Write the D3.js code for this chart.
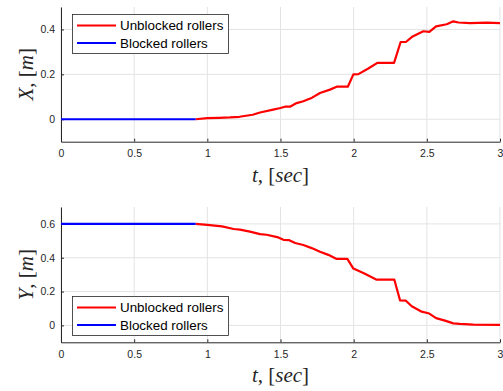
<!DOCTYPE html>
<html>
<head>
<meta charset="utf-8">
<script src="https://cdn.jsdelivr.net/npm/d3@7"></script>
<style>
  body { margin: 0; background: #fff; }
  .tick text { font-family: "Liberation Sans", Arial, sans-serif; font-size: 10.5px; fill: #262626; }
  .lab { font-family: "Liberation Serif", "DejaVu Serif", serif; font-size: 21px; fill: #262626; }
  .leg { font-family: "Liberation Sans", Arial, sans-serif; font-size: 13.4px; fill: #000; }
</style>
</head>
<body>
<script>
// blocked rollers (both plots)
var tBlocked = [0, 0.92];
var xBlocked = [0, 0];
var yBlocked = [0.6, 0.6];

// unblocked rollers, X position
var tX = [0.92, 1.0, 1.08, 1.155, 1.22, 1.31, 1.36, 1.45, 1.5, 1.53, 1.565, 1.61, 1.656, 1.69, 1.713,
          1.77, 1.838, 1.884, 1.96, 1.998, 2.032, 2.1, 2.162, 2.276, 2.321, 2.357, 2.403, 2.476,
          2.517, 2.563, 2.636, 2.681, 2.716, 2.795, 2.909, 3.0];
var xVals = [0, 0.005, 0.006, 0.008, 0.011, 0.02, 0.03, 0.043, 0.05, 0.056, 0.056, 0.072, 0.08, 0.089, 0.095,
             0.117, 0.132, 0.145, 0.145, 0.2, 0.201, 0.226, 0.251, 0.251, 0.344, 0.344, 0.369, 0.392,
             0.389, 0.414, 0.423, 0.436, 0.431, 0.428, 0.43, 0.428];

// unblocked rollers, Y position
var tY = [0.92, 1.0, 1.1, 1.18, 1.223, 1.291, 1.36, 1.405, 1.485, 1.52, 1.56, 1.6, 1.656, 1.713, 1.77,
          1.827, 1.884, 1.957, 1.998, 2.077, 2.157, 2.278, 2.317, 2.357, 2.397, 2.465, 2.517, 2.563,
          2.624, 2.681, 2.726, 2.818, 3.0];
var yVals = [0.6, 0.594, 0.585, 0.57, 0.566, 0.554, 0.54, 0.536, 0.52, 0.506, 0.504, 0.487, 0.475, 0.457, 0.435,
             0.417, 0.393, 0.393, 0.336, 0.305, 0.27, 0.27, 0.148, 0.146, 0.113, 0.081, 0.07, 0.043,
             0.028, 0.012, 0.009, 0.005, 0.003];

var tTicks = [0, 0.5, 1, 1.5, 2, 2.5, 3];
var xTicks = [0, 0.2, 0.4];
var yTicks = [0, 0.2, 0.4, 0.6];
var legendLabels = ["Unblocked rollers", "Blocked rollers"];

var svg = d3.select("body").append("svg")
            .attr("width", 503)
            .attr("height", 391);

var x = d3.scaleLinear().domain([0, 3]).range([61, 500]);

function panel(opts) {
    var y = d3.scaleLinear().domain(opts.domain).range([opts.bottom, opts.top]);
    var g = svg.append("g");

    // grid
    g.selectAll(".vg").data(tTicks).enter().append("line")
     .attr("x1", d => x(d)).attr("x2", d => x(d))
     .attr("y1", opts.top).attr("y2", opts.bottom)
     .attr("stroke", "#e3e3e3").attr("stroke-width", 1);
    g.selectAll(".hg").data(opts.ticks).enter().append("line")
     .attr("x1", x(0)).attr("x2", x(3))
     .attr("y1", d => y(d)).attr("y2", d => y(d))
     .attr("stroke", "#e3e3e3").attr("stroke-width", 1);

    var xAxis = d3.axisBottom(x).tickValues(tTicks).tickFormat(d3.format("")).tickSizeInner(-3).tickSizeOuter(0).tickPadding(8);
    var yAxis = d3.axisLeft(y).tickValues(opts.ticks).tickFormat(d3.format("")).tickSizeInner(-3).tickSizeOuter(0).tickPadding(6);

    var ax = g.append("g").attr("transform", "translate(0," + opts.bottom + ")").call(xAxis);
    var ay = g.append("g").attr("transform", "translate(" + x(0) + ",0)").call(yAxis);
    [ax, ay].forEach(function (a) {
        a.select(".domain").attr("stroke", "#262626");
        a.selectAll(".tick line").attr("stroke", "#262626");
        a.selectAll(".tick text").attr("font-family", null).attr("font-size", null);
    });

    var line = d3.line().x(d => x(d[0])).y(d => y(d[1]));
    g.append("path")
     .datum(opts.t.map((t, i) => [t, opts.v[i]]))
     .attr("d", line).attr("fill", "none")
     .attr("stroke", "#ff0000").attr("stroke-width", 2.2).attr("stroke-linejoin", "round");
    g.append("path")
     .datum(tBlocked.map((t, i) => [t, opts.bv[i]]))
     .attr("d", line).attr("fill", "none")
     .attr("stroke", "#0000ff").attr("stroke-width", 2.2);

    // axis labels
    var xl = g.append("text").attr("class", "lab")
              .attr("x", (x(0) + x(3)) / 2).attr("y", opts.bottom + 40)
              .attr("text-anchor", "middle");
    xl.append("tspan").attr("font-style", "italic").text("t");
    xl.append("tspan").text(", [");
    xl.append("tspan").attr("font-style", "italic").text("sec");
    xl.append("tspan").text("]");

    var yl = g.append("text").attr("class", "lab")
              .attr("transform", "translate(33," + (opts.top + opts.bottom) / 2 + ") rotate(-90)")
              .attr("text-anchor", "middle");
    yl.append("tspan").attr("font-style", "italic").text(opts.name);
    yl.append("tspan").text(", [");
    yl.append("tspan").attr("font-style", "italic").text("m");
    yl.append("tspan").text("]");

    // legend
    var lg = g.append("g").attr("transform", "translate(72," + opts.legTop + ")");
    lg.append("rect").attr("x", 0.5).attr("y", 0.5).attr("width", 156).attr("height", 39)
      .attr("fill", "#fff").attr("stroke", "#262626").attr("stroke-width", 0.8);
    var cols = ["#ff0000", "#0000ff"];
    legendLabels.forEach(function (lab, i) {
        var cy = 11.5 + i * 17.5;
        lg.append("line").attr("x1", 5).attr("x2", 44).attr("y1", cy).attr("y2", cy)
          .attr("stroke", cols[i]).attr("stroke-width", 2.2);
        lg.append("text").attr("class", "leg").attr("x", 48).attr("y", cy)
          .attr("dy", "0.35em").text(lab);
    });
}

panel({ top: 7, bottom: 141.7, domain: [-0.1, 0.5], ticks: xTicks, t: tX, v: xVals, bv: xBlocked, name: "X", legTop: 14 });
panel({ top: 207, bottom: 342.3, domain: [-0.1, 0.7], ticks: yTicks, t: tY, v: yVals, bv: yBlocked, name: "Y", legTop: 296 });
</script>
</body>
</html>
